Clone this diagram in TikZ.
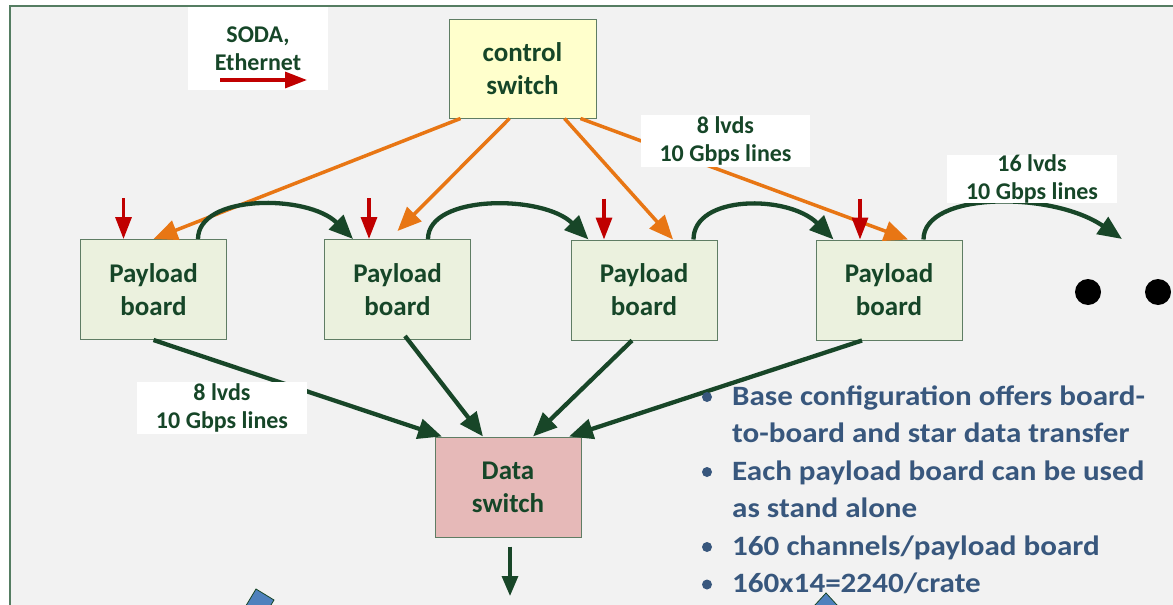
\documentclass[tikz,border=0pt]{standalone}
\usepackage{fontspec}
\setmainfont{Carlito}
\newfontfamily\notesfont[FakeStretch=1.11]{Carlito}
\usetikzlibrary{arrows.meta,calc}

\definecolor{panel}{RGB}{242,242,242}
\definecolor{frameline}{RGB}{85,125,98}
\definecolor{txtgreen}{RGB}{22,70,40}
\definecolor{boxline}{RGB}{95,125,100}
\definecolor{pbfill}{RGB}{235,241,222}
\definecolor{ctlfill}{RGB}{255,255,204}
\definecolor{dsfill}{RGB}{230,185,184}
\definecolor{ctlorange}{RGB}{232,118,20}
\definecolor{linkgreen}{RGB}{24,70,40}
\definecolor{sodared}{RGB}{192,0,0}
\definecolor{notesblue}{RGB}{56,87,125}
\definecolor{shapeblue}{RGB}{79,129,189}

\begin{document}
\begin{tikzpicture}[x=1pt,y=-1pt,
  box/.style={draw=boxline, line width=1pt, inner sep=0pt, align=center,
    minimum width=146pt, minimum height=100pt, text=txtgreen,
    font=\bfseries\fontsize{27}{33}\selectfont},
  board/.style={box, fill=pbfill},
  lbl/.style={fill=white, inner sep=0pt, align=center, text=txtgreen,
    font=\bfseries\fontsize{24}{28}\selectfont},
  ctl/.style={draw=ctlorange, line width=3.5pt,
    -{Triangle[length=24pt,width=20pt]}},
  link/.style={draw=linkgreen, line width=4.3pt,
    -{Triangle[length=24pt,width=20pt]}},
  soda/.style={draw=sodared, line width=3.3pt,
    -{Triangle[length=22pt,width=16pt]}},
  note/.style={anchor=base west, inner sep=0pt, text=notesblue,
    font=\notesfont\bfseries\fontsize{28}{33}\selectfont},
  notedot/.style={circle, fill=notesblue, inner sep=0pt, minimum size=10pt},
  more/.style={circle, fill=black, inner sep=0pt, minimum size=26pt},
  crate/.style={fill=shapeblue, draw=linkgreen, line width=0.8pt}]

\useasboundingbox (0,0) rectangle (1173,605);
\clip (0,0) rectangle (1173,605);
\fill[white] (0,0) rectangle (1173,605);
\filldraw[fill=panel, draw=frameline, line width=1.6pt] (10,6) rectangle (1200,640);

% switches and payload boards
\node[box, fill=ctlfill, minimum width=147pt, minimum height=99pt] (cs) at (522.5,68.5) {control\\switch};
\node[board] (pb1) at (153.5,289.5) {Payload\\board};
\node[board] (pb2) at (397.5,289.5) {Payload\\board};
\node[board] (pb3) at (644,290) {Payload\\board};
\node[board] (pb4) at (889,290) {Payload\\board};
\node[box, fill=dsfill] (ds) at (508,487) {Data\\switch};

% continuation marks
\node[more] (m1) at (1088,292) {};
\node[more] (m2) at (1158,292) {};

% control links
\draw[ctl] ([xshift=-62pt]cs.south) -- (pb1.north);
\draw[ctl] ([xshift=-13pt]cs.south) -- ([yshift=8pt]pb2.north);
\draw[ctl] ([xshift=42pt]cs.south) -- ([xshift=29pt]pb3.north);
\draw[ctl] ([xshift=58pt]cs.south) -- ([xshift=19pt]pb4.north);

% board-to-board links
\coordinate (next) at (1122,239);
\draw[link] ([xshift=-29pt]pb1.north east) .. controls +(0,-45) and +(-45,-45) .. ([xshift=29pt]pb2.north west);
\draw[link] ([xshift=-43pt]pb2.north east) .. controls +(0,-45) and +(-45,-45) .. ([xshift=18pt]pb3.north west);
\draw[link] ([xshift=-24pt]pb3.north east) .. controls +(0,-45) and +(-45,-45) .. ([xshift=18pt]pb4.north west);
\draw[link] ([xshift=-39pt]pb4.north east) .. controls +(0,-48) and +(-70,-48) .. (next);

% star links to the data switch
\draw[link] (pb1.south) -- ([xshift=-66pt]ds.north);
\draw[link] ([xshift=7.5pt,yshift=4pt]pb2.south) -- ([xshift=-25pt]ds.north);
\draw[link] ([xshift=-12pt]pb3.south) -- ([xshift=25pt]ds.north);
\draw[link] ([xshift=-27pt]pb4.south) -- ([xshift=61pt]ds.north);

% data output
\coordinate (out) at (510,596);
\draw[link, line width=3.3pt, -{Triangle[length=20pt,width=16pt]}] ([xshift=2pt,yshift=-9pt]ds.south) -- (out);

% SODA / Ethernet inputs
\foreach \b/\dx in {pb1/-30, pb2/-28.5, pb3/-40, pb4/-29}
  \draw[soda] ([xshift=\dx pt,yshift=41pt]\b.north) -- ([xshift=\dx pt]\b.north);

% labels
\node[lbl, minimum width=140pt, minimum height=83pt] (sodalbl) at (258,48.5) {SODA,\\Ethernet};
\coordinate (sodaA) at (220,80);
\coordinate (sodaB) at (307,80);
\draw[soda] (sodaA) -- (sodaB);
\node[lbl, minimum width=169pt, minimum height=52pt] (l8a) at (725.5,141) {8 lvds\\10 Gbps lines};
\node[lbl, minimum width=170pt, minimum height=52pt] (l8b) at (222,408) {8 lvds\\10 Gbps lines};
\node[lbl, minimum width=170pt, minimum height=48pt] (l16) at (1032,179) {16 lvds\\10 Gbps lines};

% notes
\node[note] (n1) at (732,405) {Base configuration offers board-};
\node[note] (n2) at (732,442.5) {to-board and star data transfer};
\node[note] (n3) at (732,480) {Each payload board can be used};
\node[note] (n4) at (732,517.5) {as stand alone};
\node[note] (n5) at (732,555) {160 channels/payload board};
\node[note] (n6) at (732,592.5) {160x14=2240/crate};
\foreach \y in {397,472,547,584.5}
  \node[notedot] at (707,\y) {};

% crate parts entering from below
\draw[crate] (256,589) -- (274,600) -- (250,640) -- (232,629) -- cycle;
\draw[crate] (826,593) -- (848,617) -- (804,617) -- cycle;
\end{tikzpicture}
\end{document}
